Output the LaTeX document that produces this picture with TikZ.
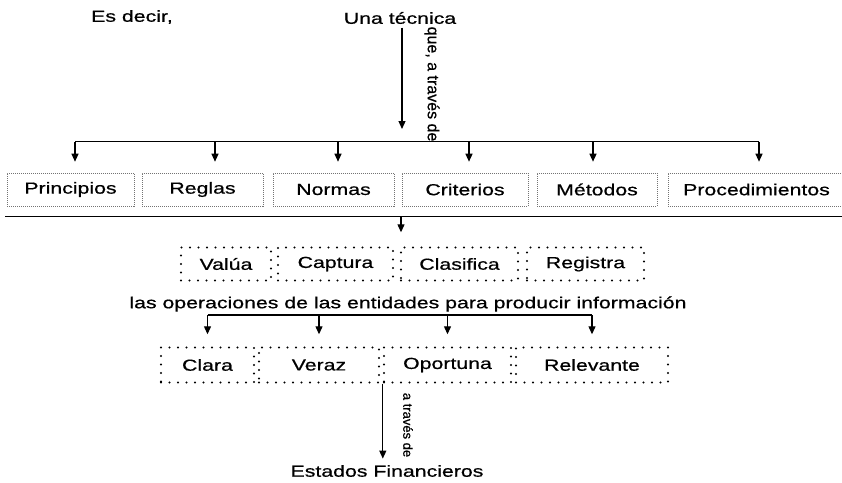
\documentclass[tikz,border=0pt]{standalone}
\usepackage{fontspec}
\setmainfont{Liberation Sans}[FakeStretch=1.33,FakeBold=0.6]
\newfontfamily\rotfont{Liberation Sans}[FakeBold=0.6]
\usetikzlibrary{arrows.meta}

\begin{document}
\begin{tikzpicture}[x=1pt,y=-1pt,font=\fontsize{16}{19}\selectfont]

	\tikzset{arr/.style={line width=1.2pt,-{Triangle[width=7pt,length=8pt]}}}
	\tikzset{bar/.style={line width=1.3pt}}
	\tikzset{thinbox/.style={draw=black!55,line width=0.6pt,dash pattern=on 1pt off 1pt,minimum height=33pt,inner sep=0pt}}
	\tikzset{dotbox/.style={draw,line width=2.4pt,dash pattern=on 0pt off 8.5pt,line cap=round,minimum height=33pt,inner sep=0pt}}
	\tikzset{side/.style={font=\rotfont\fontsize{16}{19}\selectfont,rotate=-90,inner sep=0pt}}

	\useasboundingbox (0,0) rectangle (842,482);
	\fill[white] (0,0) rectangle (842,482);

	% top
	\node (esdecir) at (132,17) {Es decir,};
	\node (tecnica) at (400,18) {Una técnica};
	\coordinate (split) at (402,129);
	\draw[arr] (tecnica.south -| split) -- (split);
	\node[side] (quelabel) at (432,84) {que, a través de};

	% first row
	\node[thinbox,minimum width=127pt] (principios) at (70.5,189.5) {Principios};
	\node[thinbox,minimum width=121pt] (reglas) at (202.5,189.5) {Reglas};
	\node[thinbox,minimum width=121pt] (normas) at (333.5,189.5) {Normas};
	\node[thinbox,minimum width=126pt] (criterios) at (465,189.5) {Criterios};
	\node[thinbox,minimum width=120pt] (metodos) at (597,189.5) {Métodos};
	\node[thinbox,minimum width=177pt] (procedimientos) at (756.5,189.5) {Procedimientos};

	\coordinate (barA) at (0,141.5);
	\draw[bar] ([xshift=4.5pt]principios.north |- barA) -- ([xshift=2.5pt]procedimientos.north |- barA);
	\foreach \n/\dx in {principios/4.5,reglas/12.5,normas/4.5,criterios/4,metodos/-4,procedimientos/2.5}
		\draw[arr,shorten >=11pt] ([xshift=\dx pt]\n.north |- barA) -- ([xshift=\dx pt]\n.north);

	\coordinate (lineL) at (5,216.5);
	\coordinate (lineR) at (842,216.5);
	\draw[bar] (lineL) -- (lineR);

	% second row
	\node[dotbox,minimum width=90pt] (valua) at (226,264) {Valúa};
	\node[dotbox,minimum width=115pt] (captura) at (335.5,264) {Captura};
	\node[dotbox,minimum width=117pt] (clasifica) at (459.5,264) {Clasifica};
	\node[dotbox,minimum width=117pt] (registra) at (585.5,264) {Registra};

	\coordinate (linemid) at (401,216.5);
	\draw[arr,shorten >=14pt] (linemid) -- (linemid |- clasifica.north);

	\node (operaciones) at (408,304) {las operaciones de las entidades para producir información};

	% third row
	\node[dotbox,minimum width=93pt,minimum height=35pt] (clara) at (207.5,365) {Clara};
	\node[dotbox,minimum width=120pt,minimum height=35pt] (veraz) at (319,365) {Veraz};
	\node[dotbox,minimum width=127pt,minimum height=35pt] (oportuna) at (447.5,365) {Oportuna};
	\node[dotbox,minimum width=152pt,minimum height=35pt] (relevante) at (592,365) {Relevante};

	\coordinate (barB) at (0,315);
	\draw[line width=1.1pt] (clara.north |- barB) -- (relevante.north |- barB);
	\foreach \n in {clara,veraz,oportuna,relevante}
		\draw[arr,shorten >=12pt] (\n.north |- barB) -- (\n.north);

	% bottom
	\node (estados) at (387,471) {Estados Financieros};
	\draw[arr,shorten >=3pt] (oportuna.south west) -- (oportuna.south west |- estados.north);
	\node[side,font=\rotfont\fontsize{13}{15}\selectfont] (atraves) at (408,425) {a través de};

\end{tikzpicture}
\end{document}
